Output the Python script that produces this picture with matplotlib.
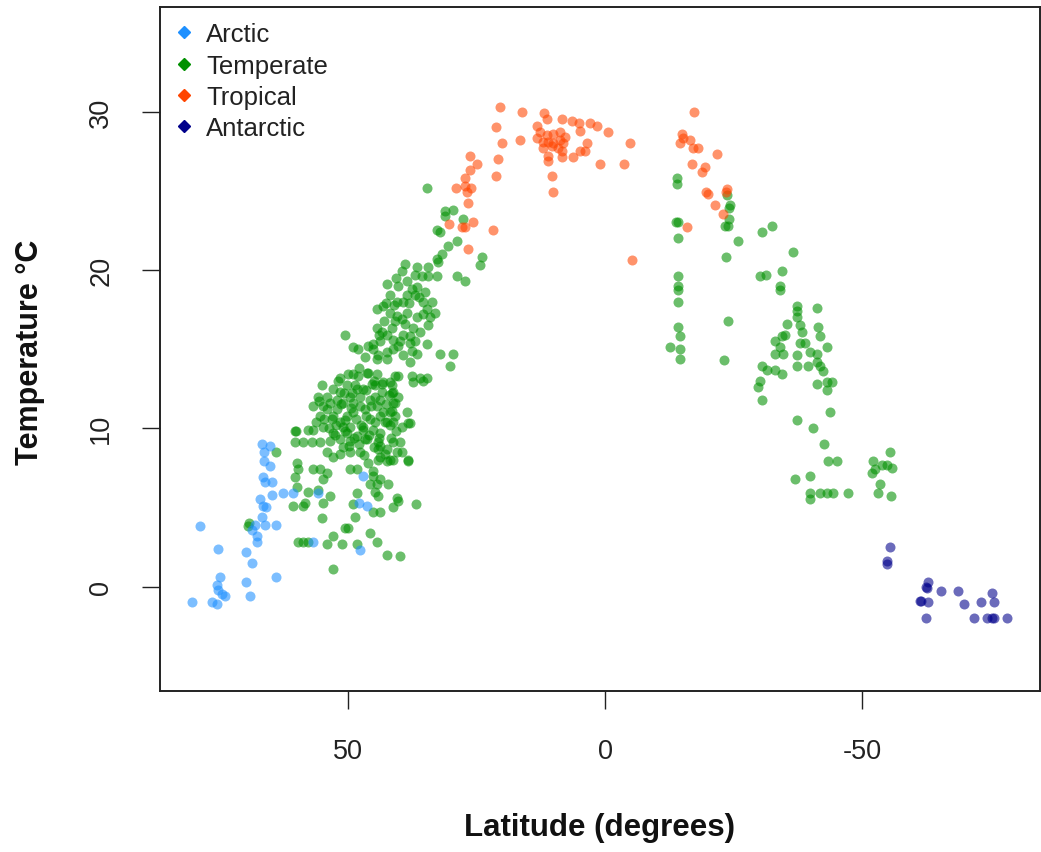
import matplotlib
matplotlib.use("Agg")
import matplotlib.pyplot as plt
from matplotlib.lines import Line2D

plt.rcParams['font.family'] = ['Liberation Sans', 'DejaVu Sans']

# ---------------- data ----------------
arctic_lat = [78.8, 80.4, 76.5, 75.5, 75.3, 74.9, 75.5, 75.3, 74.5, 73.9,
              69.8, 69.8, 69.1, 68.7, 64.0, 66.7, 65.2, 66.3, 66.3, 65.2,
              66.5, 66.1, 64.8, 64.8, 67.1, 66.5, 66.0, 62.6, 60.7, 55.8,
              66.7, 66.1, 64.0, 68.1, 68.7, 67.7, 67.7, 56.8, 47.1, 47.9,
              46.3, 47.7]
arctic_temp = [3.8, -1.0, -1.0, -1.1, 2.4, 0.6, 0.1, -0.2, -0.5, -0.6,
               2.2, 0.3, -0.6, 1.5, 0.6, 9.0, 8.9, 8.5, 7.9, 7.6,
               6.9, 6.6, 6.6, 5.8, 5.5, 5.1, 5.0, 5.9, 5.9, 5.9,
               4.4, 3.9, 3.9, 3.9, 3.6, 3.2, 2.8, 2.8, 7.0, 5.3,
               5.1, 2.3]

temperate_lat = [
    # north, lower part
    69.3, 69.5, 64.0, 60.1, 60.3, 58.8, 57.0, 55.4, 59.9, 59.7, 60.3, 59.9,
    60.7, 58.8, 58.4, 57.8, 55.8, 54.9, 53.5, 55.1, 59.7, 58.8, 57.8, 54.1,
    52.9, 51.2, 52.9, 50.6, 50.0, 48.6, 49.0, 48.2, 48.2, 45.7, 44.4, 42.4,
    39.9, 45.1, 43.8, 41.2, 40.3, 36.8, 38.3, 38.5, 38.3, 45.7, 44.4, 42.2,
    44.7, 44.2, 56.8, 55.4, 54.1, 54.9, 49.6, 48.2, 45.1, 43.8, 45.1, 40.5,
    # north, dense middle
    55.1, 51.6, 50.0, 48.1, 46.1, 44.4, 43.4, 41.8, 40.9, 55.8, 54.1, 56.8,
    54.9, 60.3, 56.8, 54.9, 53.1, 51.6, 50.2, 49.0, 47.7, 51.0, 49.6, 48.2,
    52.1, 52.9, 50.2, 48.2, 47.1, 45.7, 54.1, 52.9, 51.6, 49.6, 47.7, 44.4,
    43.8, 42.4, 41.8, 40.9, 41.2, 43.8, 42.4, 41.2, 43.8, 41.8, 40.5, 55.4,
    54.1, 53.5, 52.1, 51.6, 50.2, 52.9, 51.0, 49.6, 51.6, 53.5, 49.6, 46.3,
    46.7, 49.0, 45.7, 47.1, 45.3, 43.2, 41.4, 37.4, 35.4, 43.4, 41.4, 40.3,
    41.2, 43.2, 41.4, 44.7, 42.8, 41.2, 39.5, 37.9, 47.1, 45.1, 46.7, 43.8,
    44.2, 39.9, 44.2, 39.5, 44.2, 42.4, 41.2, 38.3,
    53.0, 52.0, 50.8, 49.5, 48.5, 47.5, 46.5, 45.5, 44.8, 43.8, 42.7, 41.9,
    40.8, 46.0, 45.0, 47.8, 48.8, 49.8, 51.0, 52.5, 53.8, 54.6, 52.3, 50.6,
    49.2, 47.6, 46.6, 44.9, 43.9, 42.9, 41.6, 40.6, 42.1, 51.3, 55.7, 56.2,
    57.8, 46.2, 47.0, 50.7,
    # north, upper part
    42.4, 39.5, 36.6, 34.4, 32.5, 35.6, 34.4, 32.7, 28.8, 40.3, 38.5, 37.5,
    36.6, 38.5, 37.0, 41.8, 40.5, 39.3, 35.4, 33.7, 34.6, 33.1, 44.4, 43.2,
    41.8, 40.5, 38.5, 36.6, 34.4, 34.0, 40.9, 38.9, 37.4, 37.9, 39.3, 44.4,
    43.4, 42.4, 43.8, 45.1, 41.2, 39.9, 50.6, 49.0, 48.1, 46.1, 45.1, 44.2,
    42.4, 41.2, 40.3, 37.9, 37.0, 37.5, 36.6, 34.6, 44.4, 42.4, 37.9, 32.1,
    29.6, 30.2, 49.0, 46.3, 40.3, 37.5, 36.0, 34.6, 48.6, 44.7,
    41.0, 39.6, 38.2, 36.2, 35.1, 37.0, 38.9, 40.6, 42.6, 43.0, 41.5, 39.4,
    36.0, 35.4, 44.0, 46.8, 47.8,
    34.6, 31.1, 29.6, 31.1, 27.6, 32.7, 32.1, 28.8, 30.5, 31.7, 32.7, 23.9,
    24.3, 27.2,
    # south
    -14.0, -14.0, -13.8, -14.2, -14.2, -23.7, -24.3, -24.1, -24.1, -23.3,
    -23.9, -25.9, -23.5, -30.5, -32.5, -36.6, -34.4, -30.2, -31.3, -34.0,
    -34.0, -14.2, -14.2, -14.2, -14.2, -23.9, -14.2, -14.6, -12.6, -14.6,
    -14.6, -23.2, -37.4, -37.4, -37.4, -41.2, -35.4, -37.9, -38.3, -41.4,
    -41.8, -33.1, -34.4, -35.0, -34.0, -37.9, -38.9, -43.2, -33.1, -34.6,
    -37.4, -39.9, -41.2, -30.5, -31.5, -33.1, -34.4, -37.4, -39.5, -41.2,
    -41.8, -42.4, -30.2, -29.8, -30.5, -41.2, -43.2, -44.2, -43.2, -43.8,
    -37.4, -40.5, -42.6, -43.4, -45.1, -37.0, -39.9, -39.9, -39.9, -41.8,
    -43.2, -44.4, -47.3, -55.4, -52.1, -53.9, -54.9, -55.8, -51.9, -52.5,
    -53.5, -53.1, -55.6]
temperate_temp = [
    4.0, 3.8, 8.5, 9.8, 9.1, 9.1, 9.1, 9.1, 7.8, 7.4, 6.9, 6.3,
    5.1, 5.1, 5.3, 6.0, 6.1, 5.3, 5.7, 4.3, 2.8, 2.8, 2.8, 2.7,
    3.2, 2.7, 1.1, 3.7, 3.7, 4.4, 5.2, 5.9, 2.7, 3.4, 2.8, 2.0,
    1.9, 4.7, 4.7, 5.0, 5.4, 5.2, 7.9, 11.0, 10.3, 6.5, 6.5, 6.5,
    6.0, 5.7, 7.4, 7.4, 7.2, 6.8, 7.4, 7.4, 7.0, 6.8, 7.3, 5.6,
    12.7, 13.2, 13.4, 13.3, 13.5, 13.4, 12.8, 12.9, 13.3, 12.0, 12.0, 11.4,
    11.4, 9.8, 9.9, 10.1, 10.6, 10.4, 10.8, 11.0, 11.4, 11.6, 12.0, 12.5,
    11.2, 9.7, 9.7, 9.5, 9.9, 10.6, 8.5, 8.2, 8.4, 8.5, 8.5, 11.4,
    10.8, 10.4, 11.0, 11.6, 12.3, 8.9, 8.7, 9.1, 8.2, 8.0, 8.5, 10.8,
    11.2, 11.6, 11.8, 12.3, 12.7, 10.8, 10.1, 10.1, 9.3, 9.2, 9.2, 9.3,
    11.2, 11.6, 11.8, 12.5, 12.8, 12.9, 12.7, 12.9, 13.0, 12.3, 12.2, 12.0,
    11.6, 11.0, 11.1, 10.4, 10.4, 10.4, 10.1, 10.3, 10.1, 9.9, 9.3, 9.7,
    9.1, 9.1, 8.7, 8.5, 8.0, 7.9, 8.0, 8.0,
    12.5, 13.0, 12.2, 11.3, 10.6, 10.2, 10.8, 11.4, 12.0, 11.8, 11.5, 10.2,
    10.8, 9.6, 8.8, 9.0, 9.4, 8.9, 8.8, 9.6, 10.0, 10.6, 10.2, 10.5,
    12.2, 12.0, 12.4, 13.0, 9.4, 8.4, 9.4, 9.8, 12.1, 11.5, 11.7, 10.4,
    9.9, 7.8, 8.3, 9.8,
    19.1, 19.9, 20.2, 20.2, 20.5, 19.6, 19.6, 19.6, 19.6, 19.0, 19.3, 18.8,
    18.9, 18.4, 18.4, 18.4, 18.0, 18.0, 18.0, 18.0, 17.5, 17.3, 17.5, 17.7,
    17.3, 17.1, 17.3, 17.0, 16.5, 17.0, 16.8, 16.6, 16.3, 15.8, 15.9, 16.3,
    16.1, 15.9, 15.5, 15.3, 15.6, 15.5, 15.9, 15.1, 15.0, 15.2, 15.0, 14.6,
    14.8, 15.0, 15.2, 15.4, 15.5, 14.9, 14.7, 15.3, 14.4, 14.4, 14.2, 14.7,
    14.7, 13.9, 13.4, 13.5, 13.3, 13.3, 13.2, 13.2, 12.7, 12.7,
    17.8, 16.9, 17.9, 18.3, 18.6, 19.7, 20.4, 19.5, 17.9, 16.8, 16.3, 14.6,
    16.1, 17.2, 15.9, 14.5, 13.8,
    25.2, 23.7, 23.8, 23.4, 23.2, 22.5, 22.4, 21.8, 21.5, 21.0, 20.7, 20.8,
    20.3, 19.3,
    25.8, 25.4, 23.0, 23.0, 22.0, 24.7, 24.1, 23.9, 23.2, 22.8,
    22.8, 21.8, 20.8, 22.4, 22.8, 21.1, 19.9, 19.6, 19.7, 19.0,
    18.7, 19.6, 19.0, 18.7, 18.0, 16.8, 16.4, 15.8, 15.1, 15.0,
    14.4, 14.3, 17.7, 17.4, 17.0, 17.6, 16.6, 16.5, 16.1, 16.4,
    15.8, 15.5, 15.8, 15.9, 15.1, 15.4, 15.4, 15.1, 14.7, 14.7,
    14.6, 14.8, 14.7, 13.9, 13.7, 13.7, 13.4, 13.9, 13.9, 14.2,
    13.9, 13.6, 13.0, 12.6, 11.8, 12.8, 12.9, 12.9, 12.4, 11.0,
    10.5, 10.0, 9.0, 7.9, 7.9, 6.8, 7.0, 5.9, 5.5, 5.9,
    5.9, 5.9, 5.9, 8.5, 7.9, 7.7, 7.7, 7.5, 7.2, 7.4,
    6.5, 5.9, 5.7]

tropical_lat = [20.4, 16.1, 11.9, 11.3, 8.4, 6.4, 5.1, 2.9, 1.6, -0.6,
                4.9, 21.2, 16.5, 13.2, 12.6, 11.3, 10.1, 8.8, 7.8, 13.2,
                12.1, 11.1, 10.1, 8.8, 8.2, 12.1, 10.3, 9.1, 8.4, 11.1,
                11.1, 8.4, 6.2, 4.9, 3.9, 3.5, -4.9, 1.0, -3.7, 10.3,
                10.1, 20.0, 20.8, 21.2, 26.3, 24.9, 26.3, 27.2, 29.0, 27.2,
                26.1, 26.8, 26.7, 30.4, 27.8, 27.2, 25.7, 21.8, 26.7, -5.3,
                -17.3, -15.0, -15.2, -14.6, -16.5, -17.1, -18.1, -21.8, -16.9, -19.5,
                -18.9, -19.6, -20.0, -21.4, -23.7, -23.5, -23.0, -16.0]
tropical_temp = [30.3, 30.0, 29.9, 29.5, 29.5, 29.4, 29.3, 29.3, 29.1, 28.7,
                 28.8, 29.0, 28.2, 29.1, 28.7, 28.5, 28.6, 28.7, 28.4, 28.3,
                 28.1, 28.1, 28.0, 28.2, 28.0, 27.7, 27.8, 27.7, 27.5, 27.2,
                 26.9, 27.1, 27.1, 27.5, 27.5, 28.0, 28.0, 26.7, 26.7, 25.9,
                 24.9, 28.0, 27.0, 25.9, 27.2, 26.7, 26.3, 25.8, 25.2, 25.3,
                 25.2, 24.9, 24.2, 22.9, 22.7, 22.7, 23.0, 22.5, 21.3, 20.6,
                 30.0, 28.6, 28.3, 28.0, 28.2, 27.7, 27.7, 27.3, 26.7, 26.5,
                 26.2, 24.9, 24.8, 24.1, 25.1, 24.9, 23.5, 22.7]

antarctic_lat = [-55.4, -54.9, -54.9, -62.8, -62.6, -62.5, -65.4, -61.3, -61.5, -62.8,
                 -62.5, -68.7, -69.8, -73.2, -75.3, -75.7, -71.8, -74.3, -75.3, -75.7,
                 -78.2]
antarctic_temp = [2.5, 1.6, 1.4, 0.3, -0.1, 0.0, -0.3, -0.9, -0.9, -1.0,
                  -2.0, -0.3, -1.1, -1.0, -0.4, -1.0, -2.0, -2.0, -2.0, -2.0,
                  -2.0]

zone_names = ["Arctic", "Temperate", "Tropical", "Antarctic"]
zone_colors = ["#1E90FF", "#009000", "#FF4500", "#00008B"]

x_ticks = [50, 0, -50]
y_ticks = [0, 10, 20, 30]

# ---------------- figure ----------------
W, H = 1041, 853
fig = plt.figure(figsize=(W / 100, H / 100), dpi=100)
ax = fig.add_axes([160 / W, 1 - 692 / H, 880 / W, 684 / H])

alpha = 0.58
ms = 52
ax.scatter(temperate_lat, temperate_temp, s=ms, color=zone_colors[1], alpha=alpha, linewidths=0, zorder=2)
ax.scatter(arctic_lat, arctic_temp, s=ms, color=zone_colors[0], alpha=alpha, linewidths=0, zorder=3)
ax.scatter(tropical_lat, tropical_temp, s=ms, color=zone_colors[2], alpha=alpha, linewidths=0, zorder=3)
ax.scatter(antarctic_lat, antarctic_temp, s=ms, color=zone_colors[3], alpha=alpha, linewidths=0, zorder=3)

ax.set_xlim(86.6, -84.6)
ax.set_ylim(-6.6, 36.6)
ax.set_xticks(x_ticks)
ax.set_xticklabels([str(v) for v in x_ticks])
ax.set_yticks(y_ticks)
ax.set_yticklabels([str(v) for v in y_ticks], rotation=90, va='center')

for sp in ax.spines.values():
    sp.set_linewidth(1.4)
    sp.set_color('#222222')
ax.tick_params(axis='both', length=13, width=1.0, color='#222222',
               labelsize=19.5, labelcolor='#222222')
ax.tick_params(axis='x', pad=21)
ax.tick_params(axis='y', pad=20)

fig.text((160 + 1040) / 2 / W, 1 - 828 / H, "Latitude (degrees)",
         ha='center', va='center', fontsize=22.5, fontweight='bold', color='#111111')
fig.text(30 / W, 1 - 352 / H, "Temperature °C", rotation=90,
         ha='center', va='center', fontsize=22, fontweight='bold', color='#111111')

handles = [Line2D([], [], linestyle='none', marker='D', markersize=6.5,
                  markerfacecolor=c, markeredgecolor=c) for c in zone_colors]
leg = ax.legend(handles, zone_names, loc='upper left', frameon=False,
                fontsize=18.5, handlelength=0.7, handletextpad=0.5,
                labelspacing=0.28, borderpad=0.45, borderaxespad=0.15)
for t in leg.get_texts():
    t.set_color('#222222')

fig.savefig("out.png", dpi=100)
